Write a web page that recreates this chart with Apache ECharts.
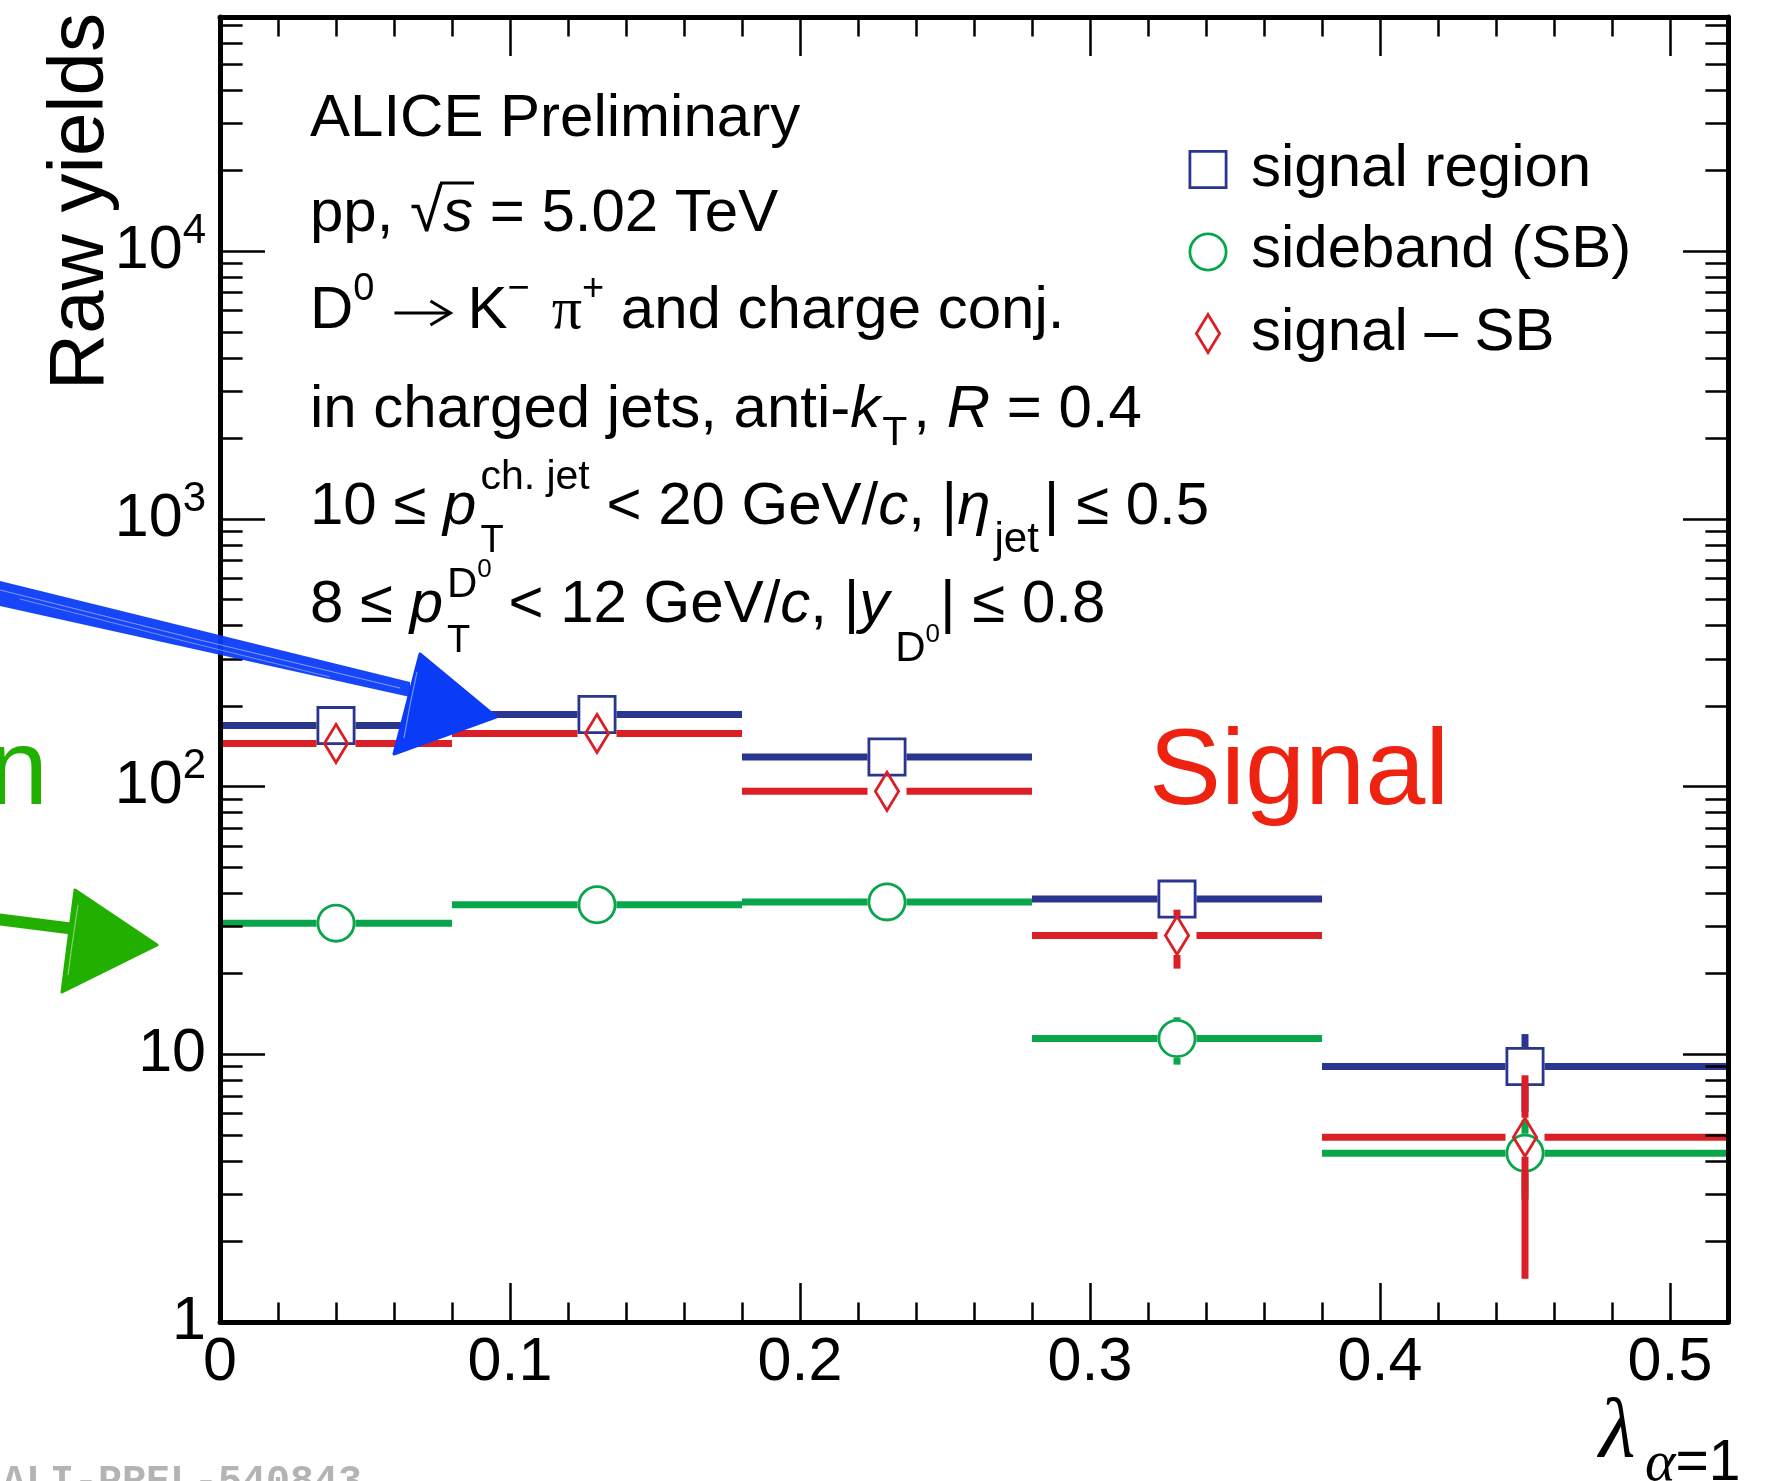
<!DOCTYPE html>
<html>
<head>
<meta charset="utf-8">
<title>Raw yields vs lambda</title>
<script src="https://cdn.jsdelivr.net/npm/echarts@6/dist/echarts.min.js"></script>
<style>
  html, body { margin: 0; padding: 0; background: #ffffff; }
  #chart { width: 1772px; height: 1481px; }
</style>
</head>
<body>
<div id="chart"></div>
<script>
// ---- data -------------------------------------------------------------
// lambda_{alpha=1} bins
const binEdges   = [0, 0.08, 0.18, 0.28, 0.38, 0.52];
const binCenters = [0.04, 0.13, 0.23, 0.33, 0.45];

// raw yields per bin
const signalRegion      = [169, 186, 129, 38, 9.0];
const signalRegionErr   = [13, 13.6, 11.4, 6.0, 2.9];
const sideband          = [30.9, 36.2, 37.1, 11.45, 4.27];
const sidebandErr       = [2.6, 2.8, 2.8, 2.3, 1.4];
const signalMinusSB     = [145, 158, 96, 27.8, 4.9];
const signalMinusSBErr  = [14, 15, 12, 6.9, 3.45];

// axis ticks
const xMajorTicks = [0, 0.1, 0.2, 0.3, 0.4, 0.5];
const xMinorTicks = [0.02, 0.04, 0.06, 0.08, 0.12, 0.14, 0.16, 0.18, 0.22, 0.24, 0.26, 0.28,
                     0.32, 0.34, 0.36, 0.38, 0.42, 0.44, 0.46, 0.48];
const yMajorTicks = [1, 10, 100, 1000, 10000];
const yMinorTicks = [2, 3, 4, 5, 6, 7, 8, 9,
                     20, 30, 40, 50, 60, 70, 80, 90,
                     200, 300, 400, 500, 600, 700, 800, 900,
                     2000, 3000, 4000, 5000, 6000, 7000, 8000, 9000,
                     20000, 30000, 40000, 50000, 60000, 70000];

// legend entries
const legendNames = ['signal region', 'sideband (SB)', 'signal \u2013 SB'];

// ---- styling ------------------------------------------------------------
const SANS  = '"Liberation Sans", Arial, Helvetica, sans-serif';
const SERIF = '"Liberation Serif", "Times New Roman", serif';
const MONO  = '"Liberation Mono", "DejaVu Sans Mono", monospace';
const BLUE  = '#2a3590';
const GREEN = '#09a54b';
const RED   = '#da1f27';
const MARKER = 39;      // marker outer size, px
const MARKER_LW = 2.8;  // marker outline width
const BAR_W = 7;        // error bar width

const X_MIN = 0, X_MAX = 0.52;
const Y_MIN = 1, Y_MAX = 75000;

// ---- text measuring helpers -------------------------------------------
const mctx = document.createElement('canvas').getContext('2d');
function fontStr(size, italic, fam) {
  return (italic ? 'italic ' : '') + size + 'px ' + fam;
}
function measure(t, size, italic, fam) {
  mctx.font = fontStr(size, italic, fam);
  return mctx.measureText(t).width;
}
// distance from the canvas "middle" baseline down to the alphabetic baseline
function midOff(size, fam) {
  mctx.font = fontStr(size, false, fam);
  mctx.textBaseline = 'middle';
  const m = mctx.measureText('H').actualBoundingBoxDescent;
  mctx.textBaseline = 'alphabetic';
  return m;
}
function textEl(t, x, baseline, size, opts) {
  opts = opts || {};
  const fam = opts.fam || SANS;
  return {
    type: 'text', z: 50, silent: true,
    x: x, y: baseline - midOff(size, fam),
    rotation: opts.rotation || 0,
    style: {
      text: t, fontSize: size, fontFamily: fam,
      fontStyle: opts.italic ? 'italic' : 'normal',
      fontWeight: opts.bold ? 'bold' : 'normal',
      fill: opts.color || '#000',
      align: opts.align || 'left', textAlign: opts.align || 'left',
      verticalAlign: 'middle', textVerticalAlign: 'middle'
    }
  };
}

// ---- info block: fragments laid out left to right -------------------------
// t: text, s: font size, it: italic, f: family, dy: baseline shift,
// g: horizontal gap, arrow: right arrow length, stack: sub/superscripts sharing one x
const MAIN = 60, SUB = 38, SUP = 41, SUP2 = 26;
const infoLines = [
  [{ t: 'ALICE Preliminary' }],
  [{ t: 'pp, ' }, { t: '\u221A' }, { t: 's', it: 1, over: 1 }, { t: ' = 5.02 TeV' }],
  [{ t: 'D' }, { t: '0', s: SUB, dy: -28 }, { g: 20 }, { arrow: 56, dy: -15 }, { g: 17 }, { t: 'K' },
   { t: '\u2212', s: SUB, dy: -28 }, { g: 22 }, { t: '\u03C0', f: SERIF }, { t: '+', s: SUB, dy: -28 },
   { t: ' and charge conj.' }],
  [{ t: 'in charged jets, anti-' }, { t: 'k', it: 1 }, { g: 2 }, { t: 'T', s: SUP, dy: 18 }, { g: 6 },
   { t: ', ' }, { t: 'R', it: 1 }, { t: ' = 0.4' }],
  [{ t: '10 \u2264 ' }, { t: 'p', it: 1 }, { g: 4 },
   { stack: [[{ t: 'T', s: SUB, dy: 28 }], [{ t: 'ch. jet', s: SUP, dy: -35 }]] },
   { t: ' < 20 GeV/' }, { t: 'c', it: 1 }, { t: ', |' }, { t: '\u03B7', it: 1 }, { g: 4 },
   { t: 'jet', s: 42, dy: 28 }, { g: 5 }, { t: '| \u2264 0.5' }],
  [{ t: '8 \u2264 ' }, { t: 'p', it: 1 }, { g: 4 },
   { stack: [[{ t: 'T', s: SUB, dy: 30 }], [{ t: 'D', s: 42, dy: -25 }, { t: '0', s: SUP2, dy: -45 }]] },
   { t: ' < 12 GeV/' }, { t: 'c', it: 1 }, { t: ', |' }, { t: 'y', it: 1 }, { g: 6 },
   { t: 'D', s: 42, dy: 39 }, { t: '0', s: SUP2, dy: 20 }, { t: '| \u2264 0.8' }]
];
const infoX = 310;
const infoBaselines = [136, 231, 328, 427, 524, 622];

function layout(frags, x0, base, out) {
  let x = x0;
  for (const f of frags) {
    if (f.stack) {
      let w = 0;
      for (const part of f.stack) w = Math.max(w, layout(part, x, base, out) - x);
      x += w;
    } else if (f.g) {
      x += f.g;
    } else if (f.arrow) {
      const y = base + f.dy, len = f.arrow;
      out.push({ type: 'line', z: 50, silent: true,
        shape: { x1: x, y1: y, x2: x + len - 1, y2: y },
        style: { stroke: '#000', lineWidth: 3 } });
      out.push({ type: 'polyline', z: 50, silent: true,
        shape: { points: [[x + len - 20, y - 12], [x + len, y], [x + len - 20, y + 12]] },
        style: { stroke: '#000', lineWidth: 3, fill: 'none' } });
      x += len;
    } else {
      const size = f.s || MAIN, fam = f.f || SANS, it = !!f.it;
      const w = measure(f.t, size, it, fam);
      out.push(textEl(f.t, x, base + (f.dy || 0), size, { fam: fam, italic: it }));
      if (f.over) {
        const yTop = base - 0.80 * size;
        out.push({ type: 'line', z: 50, silent: true,
          shape: { x1: x - 3, y1: yTop, x2: x + w + 1, y2: yTop },
          style: { stroke: '#000', lineWidth: 3 } });
      }
      x += w;
    }
  }
  return x;
}

// ---- marker + error bar drawing ----------------------------------------
function markerShape(kind, cx, cy, color) {
  const s = MARKER - MARKER_LW;
  const style = { fill: 'none', stroke: color, lineWidth: MARKER_LW };
  if (kind === 'square') {
    return { type: 'rect', shape: { x: cx - s / 2, y: cy - s / 2, width: s, height: s }, style: style };
  }
  if (kind === 'circle') {
    return { type: 'circle', shape: { cx: cx, cy: cy, r: s / 2 }, style: style };
  }
  const dw = 13 - MARKER_LW / 2, dh = 20.5 - MARKER_LW / 2;
  return { type: 'polygon',
    shape: { points: [[cx, cy - dh], [cx + dw, cy], [cx, cy + dh], [cx - dw, cy]] }, style: style };
}

function makeRenderItem(kind, color) {
  return function (params, api) {
    const xv = api.value(0), yv = api.value(1);
    const c  = api.coord([xv, yv]);
    const l  = api.coord([api.value(2), yv]);
    const r  = api.coord([api.value(3), yv]);
    const lo = api.coord([xv, api.value(4)]);
    const hi = api.coord([xv, api.value(5)]);
    const H = MARKER / 2;
    const ls = { stroke: color, lineWidth: BAR_W, lineCap: 'butt' };
    const kids = [];
    if (c[0] - H > l[0]) kids.push({ type: 'line', shape: { x1: l[0], y1: c[1], x2: c[0] - H, y2: c[1] }, style: ls });
    if (r[0] > c[0] + H) kids.push({ type: 'line', shape: { x1: c[0] + H, y1: c[1], x2: r[0], y2: c[1] }, style: ls });
    if (hi[1] < c[1] - H) kids.push({ type: 'line', shape: { x1: c[0], y1: hi[1], x2: c[0], y2: c[1] - H }, style: ls });
    if (lo[1] > c[1] + H) kids.push({ type: 'line', shape: { x1: c[0], y1: c[1] + H, x2: c[0], y2: lo[1] }, style: ls });
    kids.push(markerShape(kind, c[0], c[1], color));
    return { type: 'group', children: kids };
  };
}

function rows(values, errs) {
  return binCenters.map((xc, i) => [xc, values[i], binEdges[i], binEdges[i + 1],
                                    values[i] - errs[i], values[i] + errs[i]]);
}

// ---- axes -------------------------------------------------------------
const tickLine = { color: '#000', width: 2.5 };
function xAxisDef(position, ticks, len, withLine, withLabels) {
  return {
    type: 'value', gridIndex: 0, position: position, min: X_MIN, max: X_MAX, z: 5,
    axisLine: { show: withLine, onZero: false, lineStyle: { color: '#000', width: 5 } },
    axisTick: { show: true, inside: true, length: len, lineStyle: tickLine, customValues: ticks },
    axisLabel: withLabels ? {
      show: true, customValues: ticks, margin: 11, fontSize: 61, lineHeight: 61,
      fontFamily: SANS, color: '#000', formatter: v => String(+v.toFixed(2))
    } : { show: false },
    splitLine: { show: false }
  };
}
function yAxisDef(position, ticks, len, withLine, withLabels) {
  return {
    type: 'log', logBase: 10, gridIndex: 0, position: position, min: Y_MIN, max: Y_MAX, z: 5,
    axisLine: { show: withLine, onZero: false, lineStyle: { color: '#000', width: 5 } },
    axisTick: { show: true, inside: true, length: len, lineStyle: tickLine, customValues: ticks },
    axisLabel: withLabels ? {
      show: true, customValues: ticks, margin: 14, fontSize: 61, fontFamily: SANS, color: '#000',
      formatter: v => (v < 100 ? String(Math.round(v)) : '{b|10}{e|' + Math.round(Math.log10(v)) + '}'),
      rich: {
        b: { fontSize: 61, lineHeight: 82, fontFamily: SANS, color: '#000' },
        e: { fontSize: 42, lineHeight: 42, verticalAlign: 'top', fontFamily: SANS, color: '#000' }
      }
    } : { show: false },
    splitLine: { show: false }
  };
}

// ---- decorations ---------------------------------------------------------
const graphics = [];

// text block
infoLines.forEach((ln, i) => layout(ln, infoX, infoBaselines[i], graphics));

// legend
const legendKinds = ['square', 'circle', 'diamond'];
const legendColors = [BLUE, GREEN, RED];
const legendCY = [169.5, 252, 333.5];
const legendBase = [186, 267, 350];
legendNames.forEach((name, i) => {
  const m = markerShape(legendKinds[i], 1208, legendCY[i], legendColors[i]);
  m.z = 50; m.silent = true;
  graphics.push(m);
  graphics.push(textEl(name, 1251, legendBase[i], 60));
});

// axis titles
const yTitle = textEl('Raw yields', 0, 0, 78, { align: 'right', rotation: Math.PI / 2 });
yTitle.x = 103 - midOff(78, SANS);
yTitle.y = 13;
graphics.push(yTitle);
graphics.push(textEl('\u03BB', 1599, 1456, 84, { fam: SERIF, italic: true }));
graphics.push(textEl('\u03B1', 1645, 1480, 58, { fam: SERIF, italic: true }));
graphics.push(textEl('=1', 1645 + measure('\u03B1', 58, true, SERIF), 1480, 57));

// labels drawn in colour on the plot
graphics.push(textEl('Signal', 1149, 805, 108, { color: '#ee2211' }));
graphics.push(textEl('n', -12, 805, 108, { color: '#22b000' }));

// hand-drawn arrows
const ARROW_BLUE = '#0a3cf8', ARROW_GREEN = '#22b000';
graphics.push({ type: 'polygon', z: 60, silent: true,
  shape: { points: [[-4, 580], [410, 682], [410, 697], [-4, 605]] },
  style: { fill: ARROW_BLUE, opacity: 0.95 } });
graphics.push({ type: 'polyline', z: 61, silent: true,
  shape: { points: [[0, 590], [200, 640], [400, 688]] },
  style: { stroke: '#ffffff', lineWidth: 1.2, opacity: 0.45, fill: 'none' } });
graphics.push({ type: 'polyline', z: 61, silent: true,
  shape: { points: [[20, 599], [180, 640], [330, 677]] },
  style: { stroke: '#ffffff', lineWidth: 1, opacity: 0.4, fill: 'none' } });
graphics.push({ type: 'polygon', z: 60, silent: true,
  shape: { points: [[420, 654], [496, 717], [394, 754]] },
  style: { fill: ARROW_BLUE, stroke: ARROW_BLUE, lineWidth: 3, lineJoin: 'round' } });
graphics.push({ type: 'polyline', z: 61, silent: true,
  shape: { points: [[417, 672], [410, 705], [404, 738]] },
  style: { stroke: '#ffffff', lineWidth: 1.2, opacity: 0.45, fill: 'none' } });
graphics.push({ type: 'polygon', z: 60, silent: true,
  shape: { points: [[-4, 913], [75, 923], [75, 935], [-4, 925]] },
  style: { fill: ARROW_GREEN } });
graphics.push({ type: 'polygon', z: 60, silent: true,
  shape: { points: [[75, 890], [157, 945], [62, 992]] },
  style: { fill: ARROW_GREEN, stroke: ARROW_GREEN, lineWidth: 3, lineJoin: 'round' } });
graphics.push({ type: 'polyline', z: 61, silent: true,
  shape: { points: [[78, 905], [72, 945], [68, 975]] },
  style: { stroke: '#ffffff', lineWidth: 1.2, opacity: 0.45, fill: 'none' } });

// preliminary figure id
graphics.push(textEl('ALI-PREL-540843', 2, 1494, 40, { fam: MONO, bold: true, color: '#b4b4b4' }));

// ---- chart --------------------------------------------------------------
const chart = echarts.init(document.getElementById('chart'), null, { renderer: 'canvas', width: 1772, height: 1481 });
chart.setOption({
  animation: false,
  backgroundColor: '#ffffff',
  grid: { left: 220, right: 44, top: 17, bottom: 159, containLabel: false },
  xAxis: [
    xAxisDef('bottom', xMajorTicks, 39, true, true),
    xAxisDef('bottom', xMinorTicks, 19.6, false, false),
    xAxisDef('top', xMajorTicks, 39, true, false),
    xAxisDef('top', xMinorTicks, 19.6, false, false)
  ],
  yAxis: [
    yAxisDef('left', yMajorTicks, 45, true, true),
    yAxisDef('left', yMinorTicks, 22.6, false, false),
    yAxisDef('right', yMajorTicks, 45, true, false),
    yAxisDef('right', yMinorTicks, 22.6, false, false)
  ],
  series: [
    { name: legendNames[0], type: 'custom', xAxisIndex: 0, yAxisIndex: 0, z: 2,
      renderItem: makeRenderItem('square', BLUE), encode: { x: [0, 2, 3], y: [1, 4, 5] },
      data: rows(signalRegion, signalRegionErr) },
    { name: legendNames[1], type: 'custom', xAxisIndex: 0, yAxisIndex: 0, z: 3,
      renderItem: makeRenderItem('circle', GREEN), encode: { x: [0, 2, 3], y: [1, 4, 5] },
      data: rows(sideband, sidebandErr) },
    { name: legendNames[2], type: 'custom', xAxisIndex: 0, yAxisIndex: 0, z: 4,
      renderItem: makeRenderItem('diamond', RED), encode: { x: [0, 2, 3], y: [1, 4, 5] },
      data: rows(signalMinusSB, signalMinusSBErr) }
  ],
  graphic: { elements: graphics }
});
</script>
</body>
</html>
